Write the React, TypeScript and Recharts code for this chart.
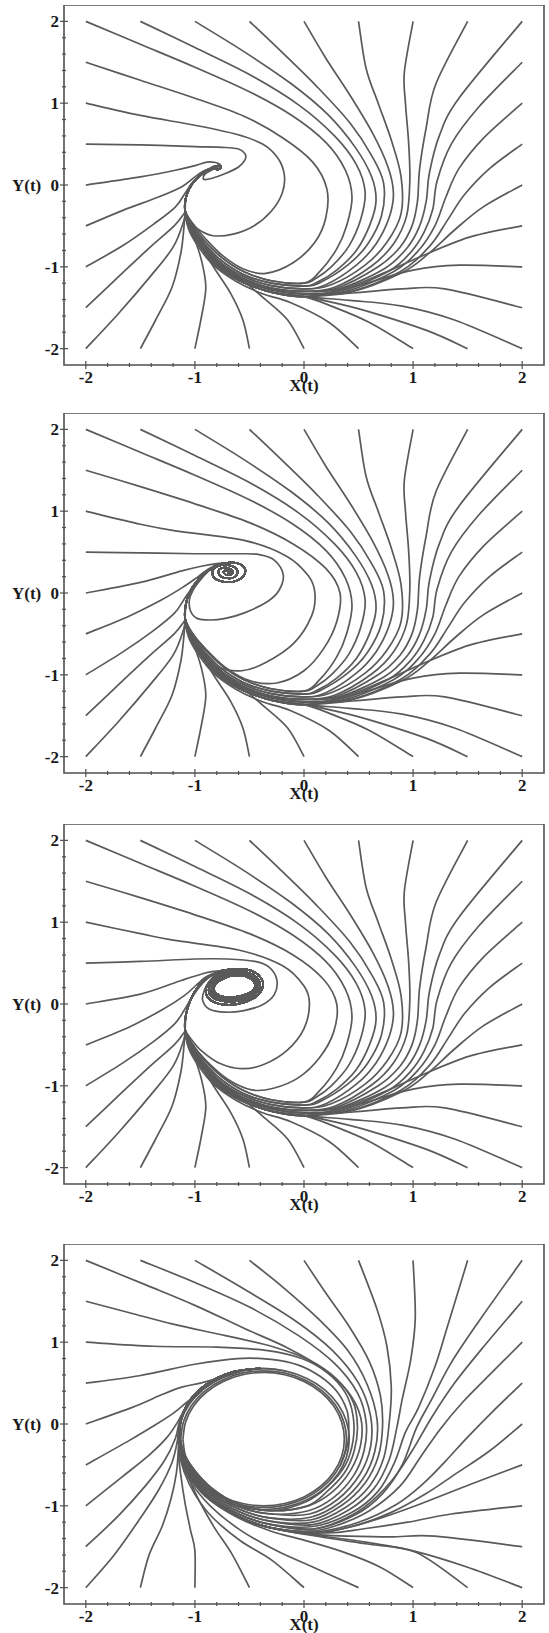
import { LineChart, Line, XAxis, YAxis, ReferenceArea } from "recharts";

// axis ticks (data units) and the labelled ones
const TICKS = [-2, -1.8, -1.6, -1.4, -1.2, -1, -0.8, -0.6, -0.4, -0.2, 0, 0.2, 0.4, 0.6, 0.8, 1, 1.2, 1.4, 1.6, 1.8, 2];
const MAJOR_TICKS = [-2, -1, 0, 1, 2];
const DOMAIN: [number, number] = [-2.2, 2.2];

// ---- panels 1-3: outer trajectory heads (flat x,y lists), shared by the first three plots ----
const H_m2_2 = [-2, 2, -1.5, 1.72, -1, 1.44, -0.5, 1.14, -0.1, 0.84, 0.2, 0.52, 0.38, 0.18, 0.44, -0.15, 0.39, -0.5, 0.3, -0.78, 0.15, -1.05];
const H_m15_2 = [-1.5, 2, -1, 1.68, -0.5, 1.35, -0.05, 0.98, 0.28, 0.6, 0.48, 0.25, 0.56, -0.08, 0.52, -0.42, 0.41, -0.75, 0.25, -1.0, 0.1, -1.15];
const H_m1_2 = [-1, 2, -0.55, 1.63, -0.12, 1.24, 0.22, 0.86, 0.47, 0.46, 0.62, 0.1, 0.66, -0.2, 0.6, -0.5, 0.48, -0.8, 0.3, -1.04, 0.12, -1.19];
const H_m05_2 = [-0.5, 2, -0.2, 1.62, 0.12, 1.2, 0.42, 0.76, 0.62, 0.36, 0.73, 0.02, 0.71, -0.38, 0.58, -0.73, 0.4, -0.98, 0.15, -1.19];
const H_0_2 = [0, 2, 0.2, 1.55, 0.42, 1.1, 0.63, 0.63, 0.77, 0.22, 0.82, -0.1, 0.78, -0.4, 0.66, -0.72, 0.48, -0.98, 0.2, -1.22];
const H_05_2 = [0.5, 2, 0.57, 1.42, 0.68, 1.0, 0.8, 0.55, 0.89, 0.1, 0.89, -0.35, 0.76, -0.7, 0.56, -0.98, 0.25, -1.22];
const H_1_2 = [1, 2, 0.92, 1.38, 0.93, 1.0, 0.96, 0.5, 0.97, 0.05, 0.94, -0.38, 0.82, -0.72, 0.62, -0.99, 0.28, -1.25];
const H_15_2 = [1.5, 2, 1.21, 1.24, 1.12, 0.7, 1.06, 0.2, 1.04, -0.2, 0.99, -0.5, 0.88, -0.76, 0.68, -1.0, 0.3, -1.26];
const H_2_2 = [2, 2, 1.42, 1.06, 1.24, 0.6, 1.15, 0.15, 1.12, -0.2, 1.06, -0.5, 0.95, -0.76, 0.74, -1.02, 0.32, -1.27];
const H_2_15 = [2, 1.5, 1.6, 0.95, 1.35, 0.5, 1.22, 0.05, 1.18, -0.3, 1.1, -0.58, 0.98, -0.82, 0.78, -1.05, 0.35, -1.29];
const H_2_1 = [2, 1, 1.65, 0.58, 1.42, 0.2, 1.3, -0.15, 1.2, -0.5, 1.05, -0.8, 0.82, -1.06, 0.38, -1.3];
const H_2_05 = [2, 0.5, 1.7, 0.2, 1.47, -0.12, 1.32, -0.42, 1.15, -0.75, 0.88, -1.06, 0.4, -1.31];
const H_2_0 = [2, 0, 1.64, -0.27, 1.38, -0.55, 1.15, -0.83, 0.9, -1.07, 0.42, -1.31];
const H_2_m05 = [2, -0.5, 1.51, -0.64, 1.06, -0.88, 0.74, -1.07, 0.4, -1.25];
const H_2_m1 = [2, -1, 1.42, -0.98, 1.0, -1.04, 0.6, -1.19, 0.28, -1.31];
const H_2_m15 = [2, -1.5, 1.29, -1.27, 0.9, -1.27, 0.45, -1.32];
const H_2_m2 = [2, -2, 1.38, -1.65, 0.9, -1.48, 0.42, -1.41];
const H_15_m2 = [1.5, -2, 1.13, -1.78, 0.6, -1.55, 0.28, -1.44];
const H_1_m2 = [1, -2, 0.6, -1.68, 0.25, -1.48];
const H_05_m2 = [0.5, -2, 0.23, -1.68, -0.12, -1.44, -0.38, -1.33, -0.62, -1.18, -0.83, -0.98, -0.97, -0.75, -1.06, -0.53];
const H_0_m2 = [0, -2, -0.15, -1.65, -0.38, -1.37, -0.6, -1.12, -0.83, -0.88, -0.99, -0.6, -1.07, -0.39];
const H_m05_m2 = [-0.5, -2, -0.56, -1.65, -0.67, -1.33, -0.83, -1.0, -0.97, -0.68, -1.06, -0.43];
const H_m1_m2 = [-1, -2, -0.94, -1.61, -0.9, -1.25, -0.94, -0.92, -1.02, -0.59, -1.08, -0.39];
const H_m15_m2 = [-1.5, -2, -1.36, -1.65, -1.21, -1.25, -1.13, -0.84, -1.1, -0.51];
const H_m2_m2 = [-2, -2, -1.7, -1.57, -1.41, -1.12, -1.2, -0.76, -1.1, -0.43];
const H_m2_m15 = [-2, -1.5, -1.7, -1.12, -1.41, -0.76, -1.19, -0.5, -1.1, -0.35];

// the dense band along the bottom, x = 0 to the cusp near (-1.09, -0.31)
const T0 = [0, -1.2, -0.3, -1.17, -0.55, -1.06, -0.75, -0.89, -0.92, -0.67, -1.03, -0.48];
const T1 = [0, -1.235, -0.3, -1.2, -0.56, -1.09, -0.77, -0.91, -0.93, -0.69, -1.04, -0.49];
const T2 = [0, -1.27, -0.3, -1.23, -0.57, -1.11, -0.78, -0.93, -0.94, -0.7, -1.045, -0.5];
const T3 = [0, -1.3, -0.3, -1.26, -0.58, -1.13, -0.79, -0.945, -0.945, -0.715, -1.05, -0.505];
const T4 = [0, -1.33, -0.3, -1.28, -0.58, -1.15, -0.8, -0.96, -0.95, -0.73, -1.05, -0.51];
const T5 = [0, -1.365, -0.3, -1.31, -0.59, -1.17, -0.81, -0.975, -0.955, -0.74, -1.055, -0.52];

// stems from the cusp up to the attractor, and the attractor itself
const STEM1 = [-1.09, -0.31, -1.085, -0.17, -1.05, -0.04, -0.99, 0.07, -0.92, 0.15, -0.86, 0.2, -0.81, 0.23];
const CORE1 = [-0.77, 0.235, -0.765, 0.205, -0.8, 0.19, -0.83, 0.21, -0.8, 0.225];
const STEM2 = [-1.09, -0.31, -1.085, -0.15, -1.05, 0.0, -0.99, 0.13, -0.92, 0.23, -0.85, 0.3, -0.78, 0.35];
const CORE2 = [-0.7, 0.37, -0.6, 0.36, -0.54, 0.29, -0.56, 0.2, -0.64, 0.14, -0.75, 0.14, -0.83, 0.2, -0.83, 0.29, -0.76, 0.34, -0.66, 0.33, -0.61, 0.27, -0.63, 0.2, -0.7, 0.18, -0.77, 0.21, -0.78, 0.28, -0.72, 0.31, -0.66, 0.28, -0.66, 0.23, -0.71, 0.22, -0.74, 0.26, -0.7, 0.28, -0.68, 0.25, -0.7, 0.245];
const STEM3 = [-1.09, -0.31, -1.085, -0.15, -1.055, 0.0, -1.01, 0.13, -0.96, 0.23, -0.9, 0.31, -0.82, 0.37];
const CORE3 = [
  -0.74, 0.41, -0.6, 0.43, -0.47, 0.4, -0.39, 0.31, -0.38, 0.2, -0.44, 0.09, -0.55, 0.02, -0.68, -0.01, -0.8, 0.01, -0.88, 0.08, -0.9, 0.18, -0.86, 0.28, -0.78, 0.36,
  -0.7, 0.39, -0.58, 0.4, -0.47, 0.36, -0.41, 0.28, -0.41, 0.19, -0.46, 0.11, -0.56, 0.05, -0.68, 0.03, -0.79, 0.05, -0.86, 0.11, -0.87, 0.2, -0.83, 0.28, -0.75, 0.35,
  -0.69, 0.36, -0.57, 0.37, -0.48, 0.33, -0.43, 0.26, -0.44, 0.18, -0.49, 0.12, -0.57, 0.08, -0.68, 0.06, -0.78, 0.08, -0.84, 0.13, -0.84, 0.21, -0.8, 0.28, -0.73, 0.33,
  -0.68, 0.34, -0.57, 0.35, -0.49, 0.31, -0.45, 0.25, -0.46, 0.18, -0.51, 0.13, -0.58, 0.1, -0.68, 0.08, -0.77, 0.1, -0.82, 0.15, -0.82, 0.22, -0.78, 0.28, -0.7, 0.33,
];

// left-edge starts, which differ from plot to plot
const A1_m2_15 = [-2, 1.5, -1.5, 1.28, -1, 1.06, -0.55, 0.84, -0.2, 0.58, 0.08, 0.28, 0.21, -0.05, 0.2, -0.4, 0.1, -0.7, -0.1, -0.95, -0.35, -1.08, -0.55, -1.03, -0.74, -0.87, -0.9, -0.66, -1.02, -0.47];
const A1_m2_1 = [-2, 1, -1.5, 0.85, -1.0, 0.73, -0.62, 0.62, -0.38, 0.5, -0.24, 0.33, -0.18, 0.12, -0.2, -0.1, -0.3, -0.32, -0.46, -0.5, -0.65, -0.6, -0.83, -0.62, -0.96, -0.55, -1.04, -0.44];
const A1_m2_05 = [-2, 0.5, -1.5, 0.49, -1.0, 0.47, -0.75, 0.46, -0.6, 0.44, -0.54, 0.38, -0.54, 0.31, -0.6, 0.22, -0.72, 0.14, -0.85, 0.08, -0.92, 0.07, -0.91, 0.13, -0.85, 0.18, -0.8, 0.21];
const A1_m2_0 = [-2, 0, -1.5, 0.1, -1.18, 0.18, -0.99, 0.24, -0.89, 0.28, -0.81, 0.275, -0.77, 0.25];
const A1_m2_m05 = [-2, -0.5, -1.66, -0.31, -1.34, -0.15, -1.12, -0.02, -1.0, 0.1, -0.92, 0.17, -0.85, 0.21];
const A1_m2_m1 = [-2, -1, -1.66, -0.74, -1.37, -0.47, -1.18, -0.27, -1.09, -0.1, -1.03, 0.02, -0.97, 0.1, -0.9, 0.17, -0.84, 0.21];

const A2_m2_15 = [-2, 1.5, -1.5, 1.3, -1, 1.09, -0.5, 0.86, -0.1, 0.6, 0.2, 0.3, 0.33, 0.0, 0.3, -0.35, 0.18, -0.68, 0.0, -0.95, -0.25, -1.1, -0.5, -1.07, -0.73, -0.9, -0.91, -0.67, -1.03, -0.48];
const A2_m2_1 = [-2, 1, -1.5, 0.84, -1.18, 0.76, -0.54, 0.64, -0.16, 0.45, 0.04, 0.21, 0.1, 0.0, 0.07, -0.28, -0.09, -0.61, -0.35, -0.85, -0.57, -0.95, -0.8, -0.9, -0.96, -0.72, -1.04, -0.5];
const A2_m2_05 = [-2, 0.5, -1.5, 0.49, -1.0, 0.48, -0.6, 0.48, -0.41, 0.47, -0.27, 0.4, -0.19, 0.22, -0.23, 0.03, -0.33, -0.1, -0.54, -0.24, -0.72, -0.31, -0.86, -0.33, -0.98, -0.31, -1.04, -0.22, -1.05, -0.08, -1.01, 0.05, -0.95, 0.16, -0.88, 0.26, -0.8, 0.34];
const A2_m2_0 = [-2, 0, -1.5, 0.13, -1.12, 0.27, -0.93, 0.33, -0.8, 0.36];
const A2_m2_m05 = [-2, -0.5, -1.6, -0.28, -1.3, -0.08, -1.1, 0.08, -0.97, 0.2, -0.88, 0.29, -0.78, 0.35];
const A2_m2_m1 = [-2, -1, -1.66, -0.72, -1.38, -0.46, -1.19, -0.25, -1.1, -0.08, -1.05, 0.02, -0.99, 0.13, -0.92, 0.23, -0.85, 0.3, -0.78, 0.35];

const A3_m2_15 = [-2, 1.5, -1.5, 1.3, -1, 1.09, -0.5, 0.86, -0.1, 0.6, 0.18, 0.3, 0.3, 0.0, 0.27, -0.35, 0.14, -0.66, -0.05, -0.9, -0.28, -1.03, -0.48, -1.05, -0.7, -0.92, -0.9, -0.69, -1.03, -0.48];
const A3_m2_1 = [-2, 1, -1.5, 0.86, -1.2, 0.78, -0.6, 0.66, -0.2, 0.47, 0.0, 0.22, 0.05, 0.0, 0.0, -0.3, -0.15, -0.56, -0.37, -0.74, -0.57, -0.79, -0.78, -0.72, -0.95, -0.56, -1.04, -0.42];
const A3_m2_05 = [-2, 0.5, -1.5, 0.52, -1.0, 0.55, -0.7, 0.55, -0.45, 0.52, -0.32, 0.45, -0.25, 0.3, -0.27, 0.12, -0.38, -0.01, -0.55, -0.08, -0.72, -0.1, -0.87, -0.06, -0.93, 0.05, -0.91, 0.18, -0.86, 0.29, -0.8, 0.37];
const A3_m2_0 = [-2, 0, -1.5, 0.12, -1.12, 0.29, -0.93, 0.37, -0.82, 0.4];
const A3_m2_m05 = [-2, -0.5, -1.6, -0.28, -1.3, -0.07, -1.1, 0.1, -0.98, 0.24, -0.9, 0.33, -0.8, 0.39];
const A3_m2_m1 = [-2, -1, -1.66, -0.72, -1.38, -0.46, -1.19, -0.25, -1.1, -0.08, -1.05, 0.03, -0.98, 0.17, -0.91, 0.28, -0.82, 0.37];

// ---- panel 4: large limit cycle ----
const LC0 = [-1.11, -0.185, -1.085, 0.026, -1.011, 0.2225, -0.893, 0.391, -0.74, 0.521, -0.562, 0.602, -0.37, 0.63, -0.178, 0.602, 0.0, 0.521, 0.153, 0.391, 0.271, 0.2225, 0.345, 0.026, 0.37, -0.185, 0.345, -0.396, 0.271, -0.5925, 0.153, -0.761, 0.0, -0.891, -0.178, -0.972, -0.37, -1.0, -0.562, -0.972, -0.74, -0.891, -0.893, -0.761, -1.011, -0.5925, -1.085, -0.396, -1.11, -0.185];
const LC1 = [-1.13, -0.185, -1.104, 0.031, -1.028, 0.2325, -0.907, 0.405, -0.75, 0.538, -0.567, 0.622, -0.37, 0.65, -0.173, 0.622, 0.01, 0.538, 0.167, 0.405, 0.288, 0.2325, 0.364, 0.031, 0.39, -0.185, 0.364, -0.401, 0.288, -0.6025, 0.167, -0.775, 0.01, -0.908, -0.173, -0.992, -0.37, -1.02, -0.567, -0.992, -0.75, -0.908, -0.907, -0.775, -1.028, -0.6025, -1.104, -0.401, -1.13, -0.185];
const LC2 = [-1.155, -0.185, -1.128, 0.038, -1.05, 0.245, -0.925, 0.423, -0.7625, 0.56, -0.573, 0.646, -0.37, 0.675, -0.167, 0.646, 0.0225, 0.56, 0.185, 0.423, 0.31, 0.245, 0.388, 0.038, 0.415, -0.185, 0.388, -0.408, 0.31, -0.615, 0.185, -0.793, 0.0225, -0.93, -0.167, -1.016, -0.37, -1.045, -0.573, -1.016, -0.7625, -0.93, -0.925, -0.793, -1.05, -0.615, -1.128, -0.408, -1.155, -0.185];

const Q0 = [-0.3, -1.06, -0.6, -0.98, -0.85, -0.78, -1.03, -0.52, -1.12, -0.28];
const Q1 = [-0.3, -1.1, -0.6, -1.01, -0.86, -0.8, -1.04, -0.53, -1.125, -0.28];
const Q2 = [-0.3, -1.15, -0.6, -1.04, -0.87, -0.82, -1.05, -0.54, -1.13, -0.28];
const Q3 = [-0.3, -1.19, -0.6, -1.07, -0.88, -0.84, -1.06, -0.55, -1.135, -0.28];
const Q4 = [-0.3, -1.23, -0.6, -1.1, -0.89, -0.86, -1.07, -0.56, -1.14, -0.28];
const Q5 = [-0.3, -1.27, -0.6, -1.13, -0.9, -0.88, -1.08, -0.57, -1.145, -0.28];
const LCUP = [-1.135, 0.0, -1.06, 0.26, -0.9, 0.48, -0.67, 0.63, -0.4, 0.68];

const P4_m2_2 = [-2, 2, -1.45, 1.7, -1.0, 1.45, -0.55, 1.17, -0.15, 0.93, 0.17, 0.68, 0.4, 0.4, 0.52, 0.08, 0.52, -0.25, 0.43, -0.56, 0.26, -0.83, 0.04, -1.0];
const P4_m15_2 = [-1.5, 2, -1.0, 1.73, -0.5, 1.43, -0.05, 1.08, 0.28, 0.74, 0.49, 0.38, 0.57, 0.02, 0.55, -0.33, 0.45, -0.64, 0.27, -0.9, 0.04, -1.06];
const P4_m1_2 = [-1, 2, -0.55, 1.65, -0.1, 1.28, 0.26, 0.9, 0.5, 0.5, 0.61, 0.1, 0.61, -0.28, 0.51, -0.62, 0.31, -0.92, 0.05, -1.1];
const P4_m05_2 = [-0.5, 2, -0.2, 1.68, 0.12, 1.3, 0.4, 0.9, 0.58, 0.48, 0.67, 0.05, 0.65, -0.33, 0.54, -0.67, 0.33, -0.96, 0.06, -1.14];
const P4_0_2 = [0, 2, 0.2, 1.6, 0.42, 1.18, 0.6, 0.76, 0.7, 0.35, 0.72, -0.03, 0.68, -0.4, 0.56, -0.72, 0.35, -0.99, 0.07, -1.17];
const P4_05_2 = [0.5, 2, 0.67, 1.4, 0.76, 0.95, 0.8, 0.45, 0.78, 0.0, 0.73, -0.42, 0.6, -0.76, 0.38, -1.02, 0.08, -1.2];
const P4_1_2 = [1, 2, 1.02, 1.3, 0.98, 0.8, 0.9, 0.3, 0.85, -0.05, 0.78, -0.44, 0.64, -0.79, 0.41, -1.05, 0.08, -1.23];
const P4_15_2 = [1.5, 2, 1.31, 1.17, 1.2, 0.7, 1.05, 0.2, 0.93, -0.1, 0.83, -0.47, 0.68, -0.82, 0.44, -1.08, 0.1, -1.25];
const P4_2_2 = [2, 2, 1.6, 1.25, 1.35, 0.75, 1.17, 0.3, 1.03, -0.05, 0.9, -0.5, 0.72, -0.85, 0.47, -1.11, 0.1, -1.28];
const P4_2_15 = [2, 1.5, 1.65, 0.95, 1.38, 0.5, 1.17, 0.08, 0.99, -0.33, 0.8, -0.7, 0.55, -1.02, 0.3, -1.2, 0.05, -1.29];
const P4_2_1 = [2, 1, 1.7, 0.6, 1.45, 0.26, 1.25, -0.06, 1.07, -0.4, 0.88, -0.76, 0.6, -1.06, 0.3, -1.24, 0.05, -1.31];
const P4_2_05 = [2, 0.5, 1.72, 0.14, 1.5, -0.16, 1.3, -0.45, 1.1, -0.72, 0.85, -0.98, 0.5, -1.2, 0.1, -1.32];
const P4_2_0 = [2, 0, 1.7, -0.33, 1.4, -0.6, 1.12, -0.85, 0.8, -1.08, 0.45, -1.25, 0.1, -1.33];
const P4_2_m05 = [2, -0.5, 1.54, -0.73, 1.06, -0.98, 0.7, -1.15, 0.35, -1.28, 0.05, -1.34];
const P4_2_m1 = [2, -1, 1.35, -1.1, 0.95, -1.2, 0.55, -1.28, 0.2, -1.33];
const P4_2_m15 = [2, -1.5, 1.2, -1.37, 0.8, -1.38, 0.4, -1.37, 0.1, -1.35];
const P4_2_m2 = [2, -2, 1.5, -1.75, 1.0, -1.55, 0.5, -1.43, 0.1, -1.36];
const P4_15_m2 = [1.5, -2, 1.03, -1.57, 0.6, -1.47, 0.2, -1.39];
const P4_1_m2 = [1, -2, 0.7, -1.75, 0.35, -1.56, 0.0, -1.42, -0.3, -1.31, -0.6, -1.15, -0.89, -0.9, -1.08, -0.58, -1.145, -0.28];
const P4_05_m2 = [0.5, -2, 0.1, -1.76, -0.25, -1.55, -0.58, -1.3, -0.86, -1.0, -1.05, -0.68, -1.14, -0.36, -1.14, -0.05];
const P4_0_m2 = [0, -2, -0.29, -1.67, -0.58, -1.43, -0.84, -1.14, -1.0, -0.86, -1.1, -0.58, -1.145, -0.33, -1.14, -0.05];
const P4_m05_m2 = [-0.5, -2, -0.66, -1.59, -0.82, -1.27, -0.96, -0.94, -1.06, -0.65, -1.13, -0.38, -1.14, -0.1];
const P4_m1_m2 = [-1, -2, -1.0, -1.55, -1.04, -1.3, -1.09, -0.97, -1.13, -0.62, -1.15, -0.35, -1.14, -0.05];
const P4_m15_m2 = [-1.5, -2, -1.42, -1.6, -1.3, -1.25, -1.22, -0.92, -1.17, -0.6, -1.15, -0.3, -1.13, 0.0];
const P4_m2_m2 = [-2, -2, -1.74, -1.6, -1.5, -1.15, -1.33, -0.8, -1.21, -0.47, -1.16, -0.2, -1.14, 0.03];
const P4_m2_m15 = [-2, -1.5, -1.7, -1.12, -1.45, -0.75, -1.28, -0.45, -1.18, -0.18, -1.14, 0.03, -1.06, 0.24];
const P4_m2_m1 = [-2, -1, -1.67, -0.65, -1.42, -0.38, -1.26, -0.17, -1.16, 0.02, -1.07, 0.23, -0.93, 0.41];
const P4_m2_m05 = [-2, -0.5, -1.6, -0.2, -1.35, 0.0, -1.2, 0.13, -1.08, 0.26, -0.93, 0.42, -0.76, 0.56, -0.57, 0.645];
const P4_m2_0 = [-2, 0, -1.58, 0.2, -1.3, 0.36, -1.12, 0.45, -0.95, 0.5, -0.76, 0.57, -0.57, 0.65, -0.37, 0.68, -0.17, 0.65];
const P4_m2_05 = [-2, 0.5, -1.51, 0.59, -1.0, 0.73, -0.61, 0.8, -0.3, 0.79, -0.05, 0.72, 0.15, 0.58, 0.3, 0.4, 0.39, 0.18, 0.41, 0.0, 0.4, -0.25, 0.33, -0.52];
const P4_m2_1 = [-2, 1, -1.38, 0.95, -0.8, 0.94, -0.35, 0.9, -0.02, 0.8, 0.22, 0.62, 0.38, 0.38, 0.45, 0.1, 0.45, -0.2, 0.38, -0.5, 0.22, -0.76, 0.02, -0.95];
const P4_m2_15 = [-2, 1.5, -1.6, 1.36, -1.2, 1.22, -0.72, 1.08, -0.3, 0.95, 0.05, 0.78, 0.3, 0.55, 0.45, 0.27, 0.49, -0.03, 0.46, -0.33, 0.37, -0.6, 0.2, -0.84, 0.03, -1.0];

type Pt = { x: number; y: number };

const pts = (...parts: number[][]): Pt[] => {
  const flat = parts.flat();
  const out: Pt[] = [];
  for (let i = 0; i + 1 < flat.length; i += 2) out.push({ x: flat[i], y: flat[i + 1] });
  return out;
};

const BAND_HEADS: [number[], number[]][] = [
  [H_m2_2, T0], [H_m15_2, T0], [H_m1_2, T1], [H_m05_2, T1], [H_0_2, T2], [H_05_2, T2],
  [H_1_2, T3], [H_15_2, T3], [H_2_2, T3], [H_2_15, T4], [H_2_1, T4], [H_2_05, T4], [H_2_0, T4],
  [H_2_m05, T5], [H_2_m1, T5], [H_2_m15, T5], [H_2_m2, T5], [H_15_m2, T5], [H_1_m2, T5],
];
const CUSP_HEADS = [H_05_m2, H_0_m2, H_m05_m2, H_m1_m2, H_m15_m2, H_m2_m2, H_m2_m15];

function sharedLines(stem: number[], core: number[]) {
  return [
    ...BAND_HEADS.map(([h, t]) => pts(h, t, stem, core)),
    ...CUSP_HEADS.map((h) => pts(h, stem, core)),
  ];
}

const PANEL1 = [
  ...sharedLines(STEM1, CORE1),
  pts(A1_m2_15, STEM1, CORE1), pts(A1_m2_1, STEM1, CORE1),
  pts(A1_m2_05, CORE1), pts(A1_m2_0, CORE1), pts(A1_m2_m05, CORE1), pts(A1_m2_m1, CORE1),
];
const PANEL2 = [
  ...sharedLines(STEM2, CORE2),
  pts(A2_m2_15, STEM2, CORE2), pts(A2_m2_1, STEM2, CORE2),
  pts(A2_m2_05, CORE2), pts(A2_m2_0, CORE2), pts(A2_m2_m05, CORE2), pts(A2_m2_m1, CORE2),
];
const PANEL3 = [
  ...sharedLines(STEM3, CORE3),
  pts(A3_m2_15, STEM3, CORE3), pts(A3_m2_1, STEM3, CORE3),
  pts(A3_m2_05, CORE3), pts(A3_m2_0, CORE3), pts(A3_m2_m05, CORE3), pts(A3_m2_m1, CORE3),
];
const PANEL4 = [
  pts(LC0), pts(LC1), pts(LC2),
  pts(P4_m2_15, Q0, LCUP), pts(P4_m2_2, Q0, LCUP), pts(P4_m15_2, Q1, LCUP), pts(P4_m1_2, Q1, LCUP),
  pts(P4_m05_2, Q2, LCUP), pts(P4_0_2, Q2, LCUP), pts(P4_05_2, Q3, LCUP), pts(P4_1_2, Q3, LCUP),
  pts(P4_15_2, Q4, LCUP), pts(P4_2_2, Q4, LCUP), pts(P4_2_15, Q4, LCUP), pts(P4_2_1, Q5, LCUP),
  pts(P4_2_05, Q5, LCUP), pts(P4_2_0, Q5, LCUP), pts(P4_2_m05, Q5, LCUP), pts(P4_2_m1, Q5, LCUP),
  pts(P4_2_m15, Q5, LCUP), pts(P4_2_m2, Q5, LCUP), pts(P4_15_m2, Q5, LCUP),
  pts(P4_1_m2, LCUP), pts(P4_05_m2), pts(P4_0_m2), pts(P4_m05_m2), pts(P4_m1_m2), pts(P4_m15_m2),
  pts(P4_m2_m2), pts(P4_m2_m15), pts(P4_m2_m1), pts(P4_m2_m05), pts(P4_m2_0), pts(P4_m2_05), pts(P4_m2_1, Q0, LCUP),
];

const PANELS = [PANEL1, PANEL2, PANEL3, PANEL4];
const PANEL_TOPS = [5, 413, 824, 1244];

const FONT = '"Liberation Serif", "Times New Roman", serif';
const INK = "#1a1a1a";
const FRAME = "#505050";
const CURVE = "#5a5a5a";
const PLOT_H = 360;
const X_AXIS_H = 32;

// Catmull-Rom style smoothing through the read points (the trajectories are smooth curves)
function smoothCurve(context: any) {
  let xs: number[] = [];
  let ys: number[] = [];
  return {
    areaStart() {},
    areaEnd() {},
    lineStart() {
      xs = [];
      ys = [];
    },
    point(x: number, y: number) {
      xs.push(+x);
      ys.push(+y);
    },
    lineEnd() {
      const n = xs.length;
      if (!n) return;
      context.moveTo(xs[0], ys[0]);
      const k = 1 / 6;
      for (let i = 0; i < n - 1; i++) {
        const a = Math.max(i - 1, 0);
        const d = Math.min(i + 2, n - 1);
        context.bezierCurveTo(
          xs[i] + (xs[i + 1] - xs[a]) * k,
          ys[i] + (ys[i + 1] - ys[a]) * k,
          xs[i + 1] - (xs[d] - xs[i]) * k,
          ys[i + 1] - (ys[d] - ys[i]) * k,
          xs[i + 1],
          ys[i + 1],
        );
      }
    },
  };
}

function XTick(props: any) {
  const { x, y, payload } = props;
  const major = MAJOR_TICKS.includes(payload.value);
  return (
    <g>
      <line x1={x} x2={x} y1={y - (major ? 4 : 2)} y2={y + (major ? 4 : 2)} stroke={FRAME} strokeWidth={1.2} />
      {major && (
        <text x={x} y={y + 18} textAnchor="middle" fontFamily={FONT} fontWeight="bold" fontSize={17} fill={INK}>
          {payload.value}
        </text>
      )}
    </g>
  );
}

function YTick(props: any) {
  const { x, y, payload } = props;
  const major = MAJOR_TICKS.includes(payload.value);
  return (
    <g>
      <line x1={x - (major ? 4 : 2)} x2={x + (major ? 4 : 2)} y1={y} y2={y} stroke={FRAME} strokeWidth={1.2} />
      {major && (
        <text x={x - 5} y={y} dy="0.35em" textAnchor="end" fontFamily={FONT} fontWeight="bold" fontSize={17} fill={INK}>
          {payload.value}
        </text>
      )}
    </g>
  );
}

function Panel({ lines }: { lines: Pt[][] }) {
  return (
    <LineChart width={549} height={PLOT_H + X_AXIS_H} margin={{ top: 0, right: 5, bottom: 0, left: 0 }}>
      <XAxis
        dataKey="x"
        type="number"
        domain={DOMAIN}
        allowDataOverflow
        ticks={TICKS}
        interval={0}
        tickSize={0}
        tickMargin={0}
        tickLine={false}
        axisLine={false}
        height={X_AXIS_H}
        tick={<XTick />}
        label={{ value: "X(t)", position: "insideBottom", offset: 6, fontFamily: FONT, fontWeight: "bold", fontSize: 17, fill: INK }}
      />
      <YAxis
        dataKey="y"
        type="number"
        domain={DOMAIN}
        allowDataOverflow
        ticks={TICKS}
        interval={0}
        tickSize={0}
        tickMargin={0}
        tickLine={false}
        axisLine={false}
        width={64}
        tick={<YTick />}
        label={{ value: "Y(t)", position: "insideLeft", offset: 12, fontFamily: FONT, fontWeight: "bold", fontSize: 17, fill: INK }}
      />
      <ReferenceArea x1={-2.2} x2={2.2} y1={-2.2} y2={2.2} fill="none" fillOpacity={0} stroke={FRAME} strokeWidth={1.6} />
      {lines.map((d, i) => (
        <Line
          key={i}
          data={d}
          dataKey="y"
          type={smoothCurve as any}
          stroke={CURVE}
          strokeWidth={1.7}
          dot={false}
          activeDot={false}
          isAnimationActive={false}
        />
      ))}
    </LineChart>
  );
}

export default function App() {
  return (
    <div style={{ position: "absolute", left: 0, top: 0, width: 549, height: 1633, background: "#fff", overflow: "hidden" }}>
      {PANELS.map((lines, i) => (
        <div key={i} style={{ position: "absolute", left: 0, top: PANEL_TOPS[i] }}>
          <Panel lines={lines} />
        </div>
      ))}
    </div>
  );
}
